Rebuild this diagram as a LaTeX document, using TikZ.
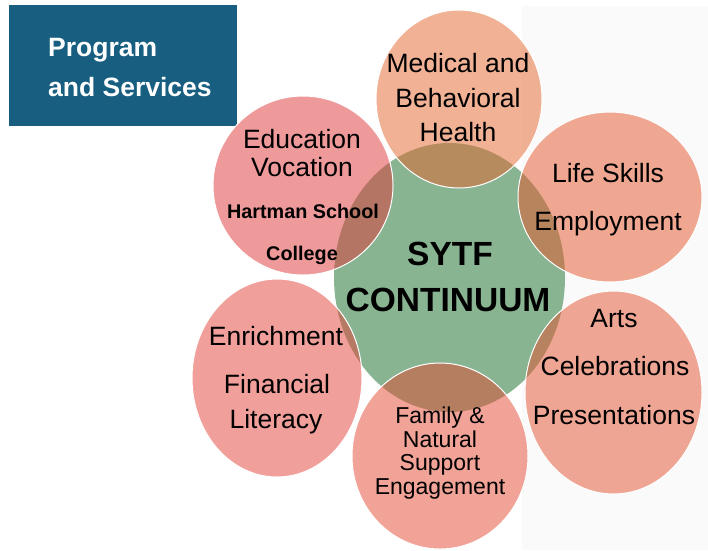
\documentclass[tikz,border=0pt]{standalone}
\usepackage{fontspec}
\setmainfont{Liberation Sans}
\definecolor{titlebg}{RGB}{23,94,128}
\definecolor{greenc}{RGB}{136,180,146}
\definecolor{cEdu}{RGB}{225,55,55}
\definecolor{cMed}{RGB}{229,101,45}
\definecolor{cLife}{RGB}{231,85,41}
\definecolor{cArts}{RGB}{229,81,45}
\definecolor{cFam}{RGB}{229,73,49}
\definecolor{cEnr}{RGB}{229,65,55}
\definecolor{panel}{RGB}{250,250,250}
\tikzset{
  bubble/.style={fill=#1, fill opacity=0.5, draw=white, draw opacity=1, line width=1pt},
  lbl/.style={anchor=base, inner sep=0pt, font=\fontsize{26.5}{30}\selectfont},
  lblsmall/.style={anchor=base, inner sep=0pt, font=\fontsize{23}{26}\selectfont},
  lblbold/.style={anchor=base, inner sep=0pt, font=\fontsize{19.8}{22}\selectfont\bfseries},
  lblcenter/.style={anchor=base, inner sep=0pt, font=\fontsize{33.5}{36}\selectfont\bfseries},
  titletext/.style={anchor=base west, inner sep=0pt, text=white, font=\fontsize{26.5}{30}\selectfont\bfseries}
}
\begin{document}
\begin{tikzpicture}[x=1pt,y=-1pt]
\useasboundingbox (0,0) rectangle (708,550);
\fill[white] (0,0) rectangle (708,550);
\fill[panel] (522,6) rectangle (708,550);
% title
\fill[titlebg] (9,5) rectangle (237,126);
\node[titletext] (t1) at (48,56) {Program};
\node[titletext] (t2) at (48,96) {and Services};
% centre
\fill[greenc] (449.5,277.5) ellipse [x radius=115.5, y radius=134.5];
% outer bubbles
\path[bubble=cMed]  (459,99) ellipse [x radius=83, y radius=89];
\path[bubble=cLife] (610,197) ellipse [x radius=92, y radius=85];
\path[bubble=cEdu]  (303,185.5) ellipse [x radius=90, y radius=89.5];
\path[bubble=cEnr]  (277,378) ellipse [x radius=85, y radius=99];
\path[bubble=cFam]  (440,456) ellipse [x radius=88, y radius=93];
\path[bubble=cArts] (613.5,392.5) ellipse [x radius=88.5, y radius=101.5];
% centre text
\node[lblcenter] (c1) at (450,265) {SYTF};
\node[lblcenter] (c2) at (448,311) {CONTINUUM};
% medical
\node[lbl] (m1) at (458,72) {Medical and};
\node[lbl] (m2) at (458,107) {Behavioral};
\node[lbl] (m3) at (458,141) {Health};
% life skills
\node[lbl] (l1) at (608,182) {Life Skills};
\node[lbl] (l2) at (608,230) {Employment};
% education
\node[lbl] (e1) at (302,148) {Education};
\node[lbl] (e2) at (302,176) {Vocation};
\node[lblbold] (e3) at (303,218) {Hartman School};
\node[lblbold] (e4) at (302,260) {College};
% enrichment
\node[lbl] (n1) at (276,345) {Enrichment};
\node[lbl] (n2) at (277,393) {Financial};
\node[lbl] (n3) at (276,428) {Literacy};
% arts
\node[lbl] (a1) at (614,327) {Arts};
\node[lbl] (a2) at (615,375) {Celebrations};
\node[lbl] (a3) at (614,424) {Presentations};
% family
\node[lblsmall] (f1) at (440,423) {Family \&};
\node[lblsmall] (f2) at (440,447) {Natural};
\node[lblsmall] (f3) at (440,470) {Support};
\node[lblsmall] (f4) at (440,494) {Engagement};
\end{tikzpicture}
\end{document}
